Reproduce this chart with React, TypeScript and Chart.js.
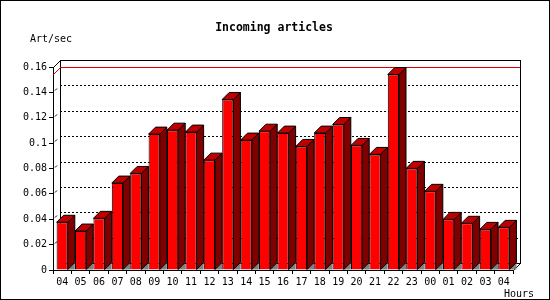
import { useEffect, useRef } from 'react';
import { Chart, registerables } from 'chart.js';

Chart.register(...registerables);

const hours = ['04', '05', '06', '07', '08', '09', '10', '11', '12', '13', '14', '15', '16', '17', '18', '19', '20', '21', '22', '23', '00', '01', '02', '03', '04'];
const artPerSec = [0.0376, 0.0307, 0.0407, 0.0685, 0.0761, 0.1071, 0.1102, 0.1087, 0.0866, 0.1344, 0.1024, 0.1094, 0.1079, 0.0974, 0.1079, 0.1147, 0.0982, 0.0911, 0.1541, 0.0801, 0.0620, 0.0399, 0.0368, 0.0320, 0.0336];
const yTicks = [0, 0.02, 0.04, 0.06, 0.08, 0.1, 0.12, 0.14, 0.16];
const titleText = 'Incoming articles';
const yUnit = 'Art/sec';
const xUnit = 'Hours';

const DEPTH = 7;
const MONO = '"DejaVu Sans Mono", "Liberation Mono", monospace';

function seg(ctx: CanvasRenderingContext2D, x1: number, y1: number, x2: number, y2: number) {
  ctx.beginPath();
  ctx.moveTo(x1, y1);
  ctx.lineTo(x2, y2);
  ctx.stroke();
}

const frame3d = {
  id: 'frame3d',
  beforeDatasetsDraw(chart: any) {
    const { ctx, chartArea: a, scales } = chart;
    const ys = scales.y;
    const d = DEPTH;
    const fl = Math.round(a.left), fr = Math.round(a.right), ft = Math.round(a.top), fb = Math.round(a.bottom);
    const L = fl + d, R = fr + d, T = ft - d, B = fb - d;
    ctx.save();
    ctx.lineWidth = 1;
    ctx.strokeStyle = '#000';
    // dotted grid on back wall
    ctx.setLineDash([2, 2]);
    for (const v of yTicks) {
      if (v <= 0 || v >= yTicks[yTicks.length - 1]) continue;
      const py = Math.round(ys.getPixelForValue(v)) - d + 0.5;
      seg(ctx, L, py, R, py);
    }
    ctx.setLineDash([]);
    // back wall
    ctx.strokeRect(L + 0.5, T + 0.5, R - L, B - T);
    // left wall top diagonal and right floor diagonal
    seg(ctx, fl + 0.5, ft + 0.5, L + 0.5, T + 0.5);
    seg(ctx, fr + 0.5, fb + 0.5, R + 0.5, B + 0.5);
    // small diagonal marks on left wall
    for (const v of yTicks) {
      if (v <= 0 || v >= yTicks[yTicks.length - 1]) continue;
      const py = Math.round(ys.getPixelForValue(v));
      seg(ctx, fl + 2, py - 1.5, fl + 4, py - 3.5);
    }
    // max line
    const m = Math.max(...artPerSec);
    const my = Math.round(ys.getPixelForValue(m));
    ctx.strokeStyle = '#e00000';
    seg(ctx, fl + 0.5, my + 0.5, L + 0.5, my - d + 0.5);
    seg(ctx, L + 0.5, my - d + 0.5, R, my - d + 0.5);
    // 3D faces of bars
    ctx.strokeStyle = '#000';
    const meta = chart.getDatasetMeta(0);
    meta.data.forEach((bar: any) => {
      const p = bar.getProps(['x', 'y', 'base', 'width'], true);
      const x1 = p.x - p.width / 2;
      const x2 = p.x + p.width / 2;
      const top = p.y;
      const base = p.base;
      // floor shadow triangle
      ctx.fillStyle = '#808080';
      ctx.beginPath();
      ctx.moveTo(x2, base);
      ctx.lineTo(x2 + d, base - d);
      ctx.lineTo(x2 + d, base);
      ctx.closePath();
      ctx.fill();
      // side face
      ctx.fillStyle = '#800000';
      ctx.beginPath();
      ctx.moveTo(x2, top);
      ctx.lineTo(x2 + d, top - d);
      ctx.lineTo(x2 + d, base - d);
      ctx.lineTo(x2, base);
      ctx.closePath();
      ctx.fill();
      ctx.stroke();
      // top face
      ctx.fillStyle = '#c00000';
      ctx.beginPath();
      ctx.moveTo(x1, top);
      ctx.lineTo(x1 + d, top - d);
      ctx.lineTo(x2 + d, top - d);
      ctx.lineTo(x2, top);
      ctx.closePath();
      ctx.fill();
      ctx.stroke();
    });
    ctx.restore();
  },
  afterDraw(chart: any) {
    const { ctx, width, height } = chart;
    ctx.save();
    ctx.fillStyle = '#000';
    ctx.textBaseline = 'middle';
    ctx.textAlign = 'center';
    ctx.font = `bold 11.5px ${MONO}`;
    ctx.fillText(titleText, 274, 28);
    ctx.font = `10px ${MONO}`;
    ctx.textAlign = 'left';
    ctx.fillText(yUnit, 30, 39);
    ctx.textAlign = 'right';
    ctx.fillText(xUnit, 534, 294);
    ctx.strokeStyle = '#000';
    ctx.lineWidth = 1;
    ctx.strokeRect(0.5, 0.5, width - 1, height - 1);
    ctx.restore();
  },
};

export default function App() {
  const ref = useRef<HTMLCanvasElement | null>(null);
  useEffect(() => {
    document.body.style.margin = '0';
    const canvas = ref.current;
    if (!canvas) return;
    const chart = new Chart(canvas, {
      type: 'bar',
      data: {
        labels: hours,
        datasets: [
          {
            data: artPerSec,
            backgroundColor: '#ff0000',
            borderColor: '#000000',
            borderWidth: 1,
            categoryPercentage: 1,
            barPercentage: 0.61,
          },
        ],
      },
      options: {
        responsive: false,
        devicePixelRatio: 1,
        animation: false,
        layout: { padding: { left: 0, right: 37, top: 67, bottom: 0 } },
        plugins: {
          legend: { display: false },
          tooltip: { enabled: false },
          title: { display: false },
        },
        scales: {
          x: {
            grid: { display: true, drawOnChartArea: false, drawTicks: true, tickLength: 4, color: '#000', offset: true },
            border: { display: true, color: '#000' },
            ticks: { color: '#000', font: { family: MONO, size: 10 }, padding: 2, maxRotation: 0, autoSkip: false },
            afterFit: (s: any) => { s.height = 30; },
          },
          y: {
            min: 0,
            max: 0.16,
            grid: { display: true, drawOnChartArea: false, drawTicks: true, tickLength: 4, color: '#000' },
            border: { display: true, color: '#000' },
            ticks: {
              stepSize: 0.02,
              color: '#000',
              font: { family: MONO, size: 10 },
              padding: 2,
              callback: (v: any) => String(Math.round(Number(v) * 100) / 100),
            },
            afterFit: (s: any) => { s.width = 53; },
          },
        },
      },
      plugins: [frame3d],
    } as any);
    return () => chart.destroy();
  }, []);
  return (
    <div style={{ position: 'absolute', left: 0, top: 0, width: 550, height: 300, background: '#fff' }}>
      <canvas ref={ref} width={550} height={300} />
    </div>
  );
}
